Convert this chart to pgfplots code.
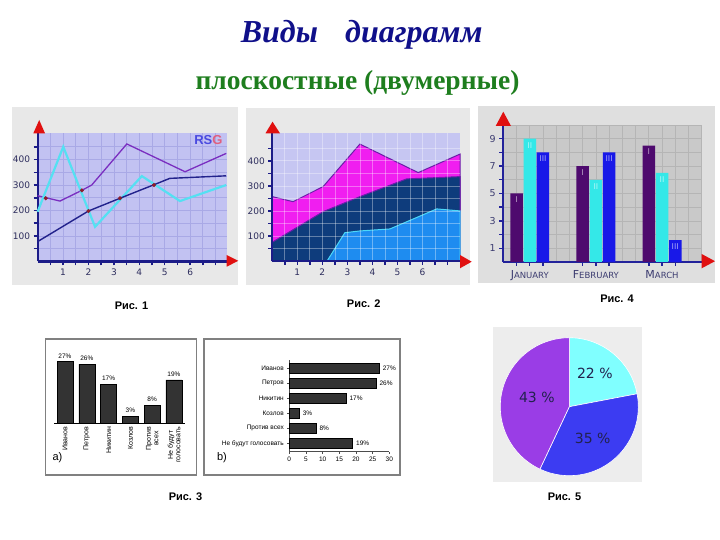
\documentclass[border=0pt]{standalone}
\usepackage{pgfplots}
\pgfplotsset{compat=1.18}
\usepackage{fontspec}
\setmainfont{Liberation Serif}
\newfontfamily\ars{Liberation Sans}
\newfontfamily\dej{DejaVu Sans}
\definecolor{titleblue}{HTML}{10108A}
\definecolor{titlegreen}{HTML}{1E7E1E}
\definecolor{panel}{HTML}{E8E8E8}
\definecolor{lavA}{HTML}{C2C2F2}
\definecolor{gridA}{HTML}{A9A9E6}
\definecolor{navyA}{HTML}{1C1C88}
\definecolor{labc}{HTML}{2E2E5E}
\definecolor{purpA}{HTML}{7A2EC0}
\definecolor{cyanA}{HTML}{55E0F2}
\definecolor{navyL}{HTML}{22228C}
\definecolor{dotc}{HTML}{8B1E2E}
\definecolor{arrowred}{HTML}{E01010}
\definecolor{rsb}{HTML}{4A4AE0}
\definecolor{rsg}{HTML}{E06080}
\definecolor{lavB}{HTML}{C6C6F2}
\definecolor{magB}{HTML}{F01EF0}
\definecolor{navB}{HTML}{0E3C7C}
\definecolor{blueB}{HTML}{1E8CF0}
\definecolor{cyanE}{HTML}{4CD8F8}
\definecolor{purpE}{HTML}{6A1EA8}
\definecolor{gray4}{HTML}{C9C9C9}
\definecolor{grid4}{HTML}{B5B5B5}
\definecolor{cI}{HTML}{4E0A6E}
\definecolor{cII}{HTML}{34E8E8}
\definecolor{cIII}{HTML}{1818E8}
\definecolor{blueAx}{HTML}{22229A}
\definecolor{lab4}{HTML}{3C3C70}
\definecolor{barc}{HTML}{333333}
\definecolor{cyanP}{HTML}{80FFFF}
\definecolor{blueP}{HTML}{3C3CF2}
\definecolor{purpP}{HTML}{9A3DE6}
\definecolor{pietext}{HTML}{22224E}
\pgfmathsetmacro\pA{22}
\pgfmathsetmacro\pB{35}
\pgfmathsetmacro\pC{43}
\pgfmathsetmacro\aA{90-3.6*\pA}
\pgfmathsetmacro\aB{\aA-3.6*\pB}
\pgfmathsetmacro\aC{\aB-3.6*\pC}
\begin{document}
\begin{tikzpicture}[x=1pt,y=1pt]
\path[use as bounding box] (0,0) rectangle (720,540);
% titles
\node[font=\fontsize{32}{38}\selectfont\bfseries\itshape, text=titleblue] at (361.7,505) {Виды\hspace{0.6em} диаграмм};
\node[font=\fontsize{27.5}{32}\selectfont\bfseries, text=titlegreen] at (357.5,457) {плоскостные (двумерные)};
% panels
\fill[panel] (12,255) rectangle (238,433);
\fill[panel] (246,255) rectangle (470,432);
\fill[panel!96!black] (478,257) rectangle (715,434);
\fill[panel!80!white] (493,58) rectangle (642,213);
% ---------- Fig 1 ----------
\begin{axis}[
  at={(37.6pt,278.5pt)}, anchor=south west, scale only axis,
  width=189.4pt, height=128.5pt,
  xmin=0, xmax=7.45, ymin=0, ymax=504,
  axis background/.style={fill=lavA},
  axis x line*=bottom, axis y line*=left,
  axis line style={navyA, line width=2.2pt, -},
  xtick={1,2,3,4,5,6}, minor xtick={0.5,1.5,2.5,3.5,4.5,5.5,6.5,7},
  ytick={100,200,300,400}, minor ytick={50,150,250,350,450},
  grid=both, major grid style={gridA, line width=0.7pt}, minor grid style={gridA, line width=0.7pt},
  tick align=outside, major tick length=4pt, minor tick length=4pt,
  tick style={navyA, line width=1.5pt},
  ticklabel style={font=\dej\fontsize{9}{10}\selectfont, text=labc},
  /pgf/number format/assume math mode=true,
  clip=false,
]
\addplot[purpA, line width=1.3pt] coordinates {(0,258) (0.88,237) (1.74,279) (2.13,300) (3.51,461) (5.8,352) (7.42,424)};
\addplot[cyanA, line width=2.2pt] coordinates {(0,195) (1.01,450) (2.26,136) (4.1,335) (5.6,237) (7.42,300)};
\addplot[navyL, line width=1.4pt] coordinates {(0,78) (2,198) (3.24,248) (4.55,300) (5.2,326) (7.42,336)};
\addplot[only marks, mark=*, mark size=1.8pt, dotc] coordinates {(0.32,248) (1.74,279) (2,198) (3.24,248) (4.58,300)};
\end{axis}
\node[font=\ars\bfseries\fontsize{13}{14}\selectfont, anchor=east] at (226,400) {\textcolor{rsb}{RS}\textcolor{rsg}{G}};
\fill[arrowred] (33.3,406.7) -- (45,406.7) -- (39.2,420) -- cycle;
\fill[arrowred] (226.7,285) -- (226.7,273.3) -- (238.3,279.2) -- cycle;
% ---------- Fig 2 ----------
\begin{axis}[
  at={(272.3pt,279pt)}, anchor=south west, scale only axis,
  width=187.7pt, height=127.7pt,
  xmin=0, xmax=7.5, ymin=0, ymax=510,
  axis background/.style={fill=lavB},
  axis on top,
  axis x line*=bottom, axis y line*=left,
  axis line style={navyA, line width=2.2pt, -},
  xtick={1,2,3,4,5,6}, minor xtick={0.5,1.5,2.5,3.5,4.5,5.5,6.5,7},
  ytick={100,200,300,400}, minor ytick={50,150,250,350,450},
  grid=both, major grid style={white, opacity=0.35, line width=0.7pt}, minor grid style={white, opacity=0.35, line width=0.7pt},
  tick align=outside, major tick length=4pt, minor tick length=4pt,
  tick style={navyA, line width=1.5pt},
  ticklabel style={font=\dej\fontsize{9}{10}\selectfont, text=labc},
  /pgf/number format/assume math mode=true,
  clip=false,
]
\addplot[fill=magB, draw=purpE, line width=1pt] coordinates {(0,257) (0.83,237) (2.03,297) (3.5,467) (5.83,353) (7.5,427)} \closedcycle;
\addplot[fill=navB, draw=purpE, line width=1pt] coordinates {(0,75) (2.03,197) (3.5,257) (5.37,328) (7.5,337)} \closedcycle;
\addplot[fill=blueB, draw=cyanE, line width=1pt] coordinates {(2.19,0) (2.9,113) (3.5,120) (4.7,128) (6.57,208) (7.5,200)} \closedcycle;
\end{axis}
\fill[arrowred] (265.5,406.7) -- (280,406.7) -- (272.5,418.3) -- cycle;
\fill[arrowred] (460,285) -- (460,271.7) -- (471.7,278.3) -- cycle;
% ---------- Fig 4 ----------
\begin{axis}[
  at={(503.3pt,278pt)}, anchor=south west, scale only axis,
  width=198.4pt, height=137pt,
  xmin=0, xmax=15, ymin=0, ymax=10,
  axis background/.style={fill=gray4},
  axis x line*=bottom, axis y line*=left,
  axis line style={blueAx, line width=2pt, -},
  xtick={1,2,3,6,7,8,11,12,13},
  xticklabels={,{{\fontsize{11}{12}\selectfont J}ANUARY},,,{{\fontsize{11}{12}\selectfont F}EBRUARY},,,{{\fontsize{11}{12}\selectfont M}ARCH},},
  minor xtick={0,...,15}, ytick={1,...,10}, yticklabels={1,,3,,5,,7,,9,}, minor ytick={0,...,10},
  grid=minor, minor grid style={grid4, line width=0.7pt},
  tick align=outside, major tick length=4pt, minor tick length=0pt,
  tick style={blueAx, line width=1.4pt},
  xticklabel style={font=\dej\fontsize{8.5}{10}\selectfont, text=lab4, yshift=-1pt},
  yticklabel style={font=\dej\fontsize{9.5}{10}\selectfont, text=lab4},
  /pgf/number format/assume math mode=true,
  clip=false,
  every node near coord/.style={font=\dej\fontsize{8}{9}\selectfont, text=white, opacity=0.6},
]
\addplot[ybar, bar width=12.5pt, bar shift=0pt, fill=cI, draw=none, nodes near coords={I}, nodes near coords align={below}] coordinates {(1,5) (6,7) (11,8.5)};
\addplot[ybar, bar width=12.5pt, bar shift=0pt, fill=cII, draw=none, nodes near coords={II}, nodes near coords align={below}] coordinates {(2,9) (7,6) (12,6.5)};
\addplot[ybar, bar width=12.5pt, bar shift=0pt, fill=cIII, draw=none, nodes near coords={III}, nodes near coords align={below}] coordinates {(3,8) (8,8) (13,1.6)};
\end{axis}
\fill[arrowred] (495.7,414) -- (511,414) -- (503.3,428.3) -- cycle;
\fill[arrowred] (701.7,286) -- (701.7,271.7) -- (715,278.8) -- cycle;
% ---------- Fig 3 ----------
\draw[gray, line width=1.1pt] (45.7,201) rectangle (196.7,65);
\draw[gray, line width=1.1pt] (204,201) rectangle (400,65);
\begin{axis}[
  at={(54.1pt,116.7pt)}, anchor=south west, scale only axis,
  width=130.8pt, height=68.4pt,
  xmin=-0.5, xmax=5.5, ymin=0, ymax=30,
  axis x line*=bottom, axis y line=none,
  axis line style={black, line width=0.6pt, -},
  xtick={0,...,5},
  xticklabels={Иванов,Петров,Никитин,Козлов,{Против\\всех},{Не будут\\голосовать}},
  xticklabel style={rotate=90, anchor=east, align=center, font=\ars\fontsize{7}{7.5}\selectfont},
  major tick length=0pt, ytick=\empty,
  /pgf/number format/assume math mode=true,
  clip=false,
]
\addplot[ybar, bar width=16pt, bar shift=0pt, fill=barc, draw=black, line width=0.5pt,
  nodes near coords={\pgfmathprintnumber{\pgfplotspointmeta}\%},
  every node near coord/.style={font=\ars\fontsize{6.5}{7}\selectfont, text=black}]
  coordinates {(0,27) (1,26) (2,17) (3,3) (4,8) (5,19)};
\end{axis}
\node[font=\ars\fontsize{11}{12}\selectfont] at (57.5,82) {a)};
\begin{axis}[
  at={(289.3pt,88.45pt)}, anchor=south west, scale only axis,
  width=100pt, height=91.5pt,
  xmin=0, xmax=30, ymin=-0.55, ymax=5.55,
  axis x line*=bottom, axis y line*=left,
  axis line style={black!70, line width=0.6pt, -},
  xtick={0,5,...,30}, ytick={0,...,5},
  yticklabels={Не будут голосовать,Против всех,Козлов,Никитин,Петров,Иванов},
  tick align=outside, major tick length=2pt,
  tick style={black!70, line width=0.5pt},
  ticklabel style={font=\ars\fontsize{6.5}{7}\selectfont},
  /pgf/number format/assume math mode=true,
  clip=false,
]
\addplot[xbar, bar width=10pt, bar shift=0pt, fill=barc, draw=black, line width=0.5pt,
  nodes near coords={\pgfmathprintnumber{\pgfplotspointmeta}\%},
  every node near coord/.style={font=\ars\fontsize{6.5}{7}\selectfont, text=black}]
  coordinates {(19,0) (8,1) (3,2) (17,3) (26,4) (27,5)};
\end{axis}
\node[font=\ars\fontsize{11}{12}\selectfont] at (222,82) {b)};
% ---------- Fig 5 ----------
\begin{axis}[
  at={(569.3pt,133.3pt)}, anchor=center, scale only axis,
  width=138pt, height=138pt,
  xmin=-1, xmax=1, ymin=-1, ymax=1,
  hide axis, clip=false,
]
\fill[cyanP, draw=white, line width=0.6pt] (axis cs:0,0) -- ++(90:69pt) arc[start angle=90, end angle=\aA, radius=69pt] -- cycle;
\fill[blueP, draw=white, line width=0.6pt] (axis cs:0,0) -- ++(\aA:69pt) arc[start angle=\aA, end angle=\aB, radius=69pt] -- cycle;
\fill[purpP, draw=white, line width=0.6pt] (axis cs:0,0) -- ++(\aB:69pt) arc[start angle=\aB, end angle=\aC, radius=69pt] -- cycle;
\node[font=\dej\fontsize{14}{15}\selectfont, text=pietext] at (axis cs:0.37,0.48) {22 \%};
\node[font=\dej\fontsize{14}{15}\selectfont, text=pietext] at (axis cs:0.34,-0.46) {35 \%};
\node[font=\dej\fontsize{14}{15}\selectfont, text=pietext] at (axis cs:-0.47,0.13) {43 \%};
\end{axis}
% captions
\node[font=\ars\bfseries\fontsize{11}{13}\selectfont] at (131.5,234) {Рис. 1};
\node[font=\ars\bfseries\fontsize{11}{13}\selectfont] at (363.7,236) {Рис. 2};
\node[font=\ars\bfseries\fontsize{11}{13}\selectfont] at (617,241) {Рис. 4};
\node[font=\ars\bfseries\fontsize{11}{13}\selectfont] at (185.5,43) {Рис. 3};
\node[font=\ars\bfseries\fontsize{11}{13}\selectfont] at (564.5,43) {Рис. 5};
\end{tikzpicture}
\end{document}
